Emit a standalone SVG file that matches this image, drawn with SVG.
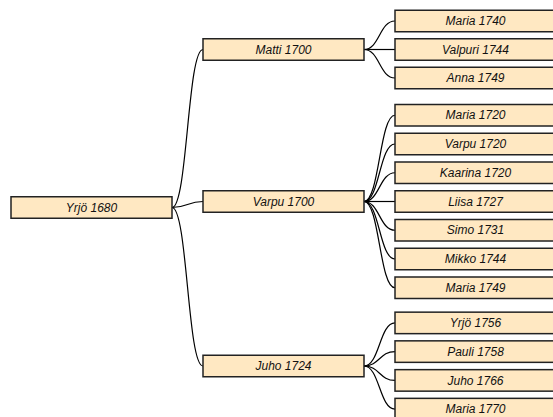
<svg xmlns="http://www.w3.org/2000/svg" width="553" height="417" viewBox="0 0 553 417">
<style>
.n rect{fill:#ffe8c2;stroke:#222;stroke-width:1.5}
.n text{font-family:"Liberation Sans",Arial,sans-serif;font-style:italic;font-size:12px;fill:#111;text-anchor:middle}
.links path{fill:none;stroke:#000;stroke-width:1.2}
</style>
<rect width="553" height="417" fill="#fff"/>
<g class="links">
<path d="M172,207.5C187.5,207.5 187.5,49.5 203,49.5"/>
<path d="M172,207.5C187.5,207.5 187.5,201.5 203,201.5"/>
<path d="M172,207.5C187.5,207.5 187.5,366 203,366"/>
<path d="M364,49.5C379.5,49.5 379.5,21 395,21"/>
<path d="M364,49.5C379.5,49.5 379.5,49.5 395,49.5"/>
<path d="M364,49.5C379.5,49.5 379.5,78 395,78"/>
<path d="M364,201.5C379.5,201.5 379.5,115.25 395,115.25"/>
<path d="M364,201.5C379.5,201.5 379.5,144 395,144"/>
<path d="M364,201.5C379.5,201.5 379.5,172.75 395,172.75"/>
<path d="M364,201.5C379.5,201.5 379.5,201.5 395,201.5"/>
<path d="M364,201.5C379.5,201.5 379.5,230.25 395,230.25"/>
<path d="M364,201.5C379.5,201.5 379.5,259 395,259"/>
<path d="M364,201.5C379.5,201.5 379.5,287.75 395,287.75"/>
<path d="M364,366C379.5,366 379.5,322.9 395,322.9"/>
<path d="M364,366C379.5,366 379.5,351.6 395,351.6"/>
<path d="M364,366C379.5,366 379.5,380.4 395,380.4"/>
<path d="M364,366C379.5,366 379.5,409.1 395,409.1"/>
</g>
<g id="n-yrjo1680" class="n"><rect x="11" y="196.75" width="161" height="21.5"/><text x="91.5" y="211.7">Yrjö 1680</text></g>
<g id="n-matti1700" class="n"><rect x="203" y="38.75" width="161" height="21.5"/><text x="283.5" y="53.7">Matti 1700</text></g>
<g id="n-varpu1700" class="n"><rect x="203" y="190.75" width="161" height="21.5"/><text x="283.5" y="205.7">Varpu 1700</text></g>
<g id="n-juho1724" class="n"><rect x="203" y="355.25" width="161" height="21.5"/><text x="283.5" y="370.2">Juho 1724</text></g>
<g id="n-maria1740" class="n"><rect x="395" y="10.25" width="161" height="21.5"/><text x="475.5" y="25.2">Maria 1740</text></g>
<g id="n-valpuri1744" class="n"><rect x="395" y="38.75" width="161" height="21.5"/><text x="475.5" y="53.7">Valpuri 1744</text></g>
<g id="n-anna1749" class="n"><rect x="395" y="67.25" width="161" height="21.5"/><text x="475.5" y="82.2">Anna 1749</text></g>
<g id="n-maria1720" class="n"><rect x="395" y="104.5" width="161" height="21.5"/><text x="475.5" y="119.45">Maria 1720</text></g>
<g id="n-varpu1720" class="n"><rect x="395" y="133.25" width="161" height="21.5"/><text x="475.5" y="148.2">Varpu 1720</text></g>
<g id="n-kaarina1720" class="n"><rect x="395" y="162" width="161" height="21.5"/><text x="475.5" y="176.95">Kaarina 1720</text></g>
<g id="n-liisa1727" class="n"><rect x="395" y="190.75" width="161" height="21.5"/><text x="475.5" y="205.7">Liisa 1727</text></g>
<g id="n-simo1731" class="n"><rect x="395" y="219.5" width="161" height="21.5"/><text x="475.5" y="234.45">Simo 1731</text></g>
<g id="n-mikko1744" class="n"><rect x="395" y="248.25" width="161" height="21.5"/><text x="475.5" y="263.2">Mikko 1744</text></g>
<g id="n-maria1749" class="n"><rect x="395" y="277" width="161" height="21.5"/><text x="475.5" y="291.95">Maria 1749</text></g>
<g id="n-yrjo1756" class="n"><rect x="395" y="312.15" width="161" height="21.5"/><text x="475.5" y="327.1">Yrjö 1756</text></g>
<g id="n-pauli1758" class="n"><rect x="395" y="340.85" width="161" height="21.5"/><text x="475.5" y="355.8">Pauli 1758</text></g>
<g id="n-juho1766" class="n"><rect x="395" y="369.65" width="161" height="21.5"/><text x="475.5" y="384.6">Juho 1766</text></g>
<g id="n-maria1770" class="n"><rect x="395" y="398.35" width="161" height="21.5"/><text x="475.5" y="413.3">Maria 1770</text></g>
</svg>
